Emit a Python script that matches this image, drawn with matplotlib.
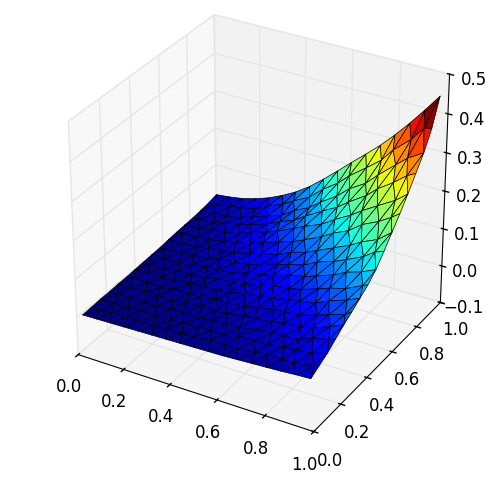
import matplotlib
matplotlib.use('Agg')
import numpy as np
import matplotlib.pyplot as plt
from mpl_toolkits.mplot3d import Axes3D

plt.style.use('classic')

# mesh nodes, every other row is staggered by half a step
y_nodes = [.01, .07, .13, .19, .25, .31, .37, .43, .49, .55, .61, .67, .73, .79, .85, .91, .97]
x_even = [.02, .08, .14, .20, .26, .32, .38, .44, .50, .56, .62, .68, .74, .80, .86, .92, .98]
x_odd = [.02, .05, .11, .17, .23, .29, .35, .41, .47, .53, .59, .65, .71, .77, .83, .89, .95, .98]

# small shifts of the inner nodes, the mesh in the picture is not regular
mesh_dx = [.006, -.005, .002, -.007, .005, -.002, .004, -.006, .001, .007, -.003]
mesh_dy = [-.005, .003, .007, -.002, -.006, .005, .001, -.004, .006, -.001]

# surface height, one row per y node
z_rows = [
    [.007, .008, .009, .010, .011, .012, .013, .014, .015, .016, .017, .019, .021, .023, .025, .028, .030],
    [.008, .008, .009, .010, .011, .012, .013, .014, .016, .018, .020, .022, .024, .026, .029, .032, .036, .042],
    [.009, .009, .010, .011, .012, .013, .014, .016, .018, .021, .024, .027, .030, .033, .038, .044, .054],
    [.009, .010, .010, .011, .012, .013, .015, .016, .018, .022, .025, .029, .033, .037, .043, .052, .063, .070],
    [.010, .011, .012, .013, .014, .016, .018, .021, .024, .028, .032, .037, .042, .047, .056, .070, .086],
    [.010, .011, .012, .013, .015, .017, .019, .022, .025, .031, .035, .041, .047, .053, .062, .074, .090, .100],
    [.011, .012, .013, .015, .018, .021, .025, .029, .035, .040, .047, .054, .062, .070, .083, .098, .115],
    [.012, .012, .013, .015, .018, .022, .026, .030, .036, .043, .051, .060, .069, .079, .092, .105, .122, .130],
    [.013, .014, .015, .018, .022, .027, .032, .039, .048, .057, .067, .078, .090, .103, .118, .134, .150],
    [.014, .015, .016, .019, .023, .029, .034, .041, .050, .060, .072, .084, .098, .114, .130, .147, .170, .178],
    [.016, .017, .019, .024, .029, .036, .044, .053, .065, .078, .092, .107, .124, .142, .162, .182, .208],
    [.018, .018, .020, .024, .030, .038, .048, .058, .071, .086, .101, .119, .138, .158, .180, .203, .224, .238],
    [.019, .021, .025, .032, .041, .052, .064, .078, .094, .111, .130, .150, .172, .195, .221, .243, .270],
    [.020, .021, .025, .031, .039, .050, .062, .077, .095, .116, .138, .161, .185, .211, .239, .268, .292, .305],
    [.022, .025, .029, .036, .045, .060, .075, .094, .116, .140, .166, .193, .222, .254, .288, .315, .340],
    [.025, .027, .032, .038, .048, .061, .078, .098, .122, .149, .178, .207, .237, .270, .306, .342, .378, .385],
    [.030, .034, .040, .050, .063, .080, .100, .125, .155, .187, .220, .252, .285, .322, .362, .405, .450],
]

xticks = [0.0, 0.2, 0.4, 0.6, 0.8, 1.0]
yticks = [0.0, 0.2, 0.4, 0.6, 0.8, 1.0]
zticks = [-0.1, 0.0, 0.1, 0.2, 0.3, 0.4, 0.5]

xs, ys, zs = [], [], []
k = 0
for j, row in enumerate(z_rows):
    nodes = x_even if j % 2 == 0 else x_odd
    for i, xv in enumerate(nodes):
        yv = y_nodes[j]
        # the outline stays straight
        if 0 < j < len(z_rows) - 1 and 0 < i < len(nodes) - 1:
            xv += mesh_dx[k % len(mesh_dx)]
            yv += mesh_dy[k % len(mesh_dy)]
            k += 1
        xs.append(xv)
        ys.append(yv)
        zs.append(row[i])

fig = plt.figure(figsize=(4.87, 4.83), dpi=100, facecolor='white')
ax = fig.add_axes([0.025, 0.04, 1, 1], projection='3d', facecolor='white')
ax.set_box_aspect((1, 1, 0.98), zoom=0.94)

ax.plot_trisurf(xs, ys, zs, cmap='jet', edgecolor='k', linewidth=0.5)

ax.set_xlim(0, 1)
ax.set_ylim(0, 1)
ax.set_zlim(-0.1, 0.5)
ax.set_xticks(xticks)
ax.set_yticks(yticks)
ax.set_zticks(zticks)
ax.tick_params(labelsize=12)

fig.savefig('out.png', dpi=100, facecolor='white')
